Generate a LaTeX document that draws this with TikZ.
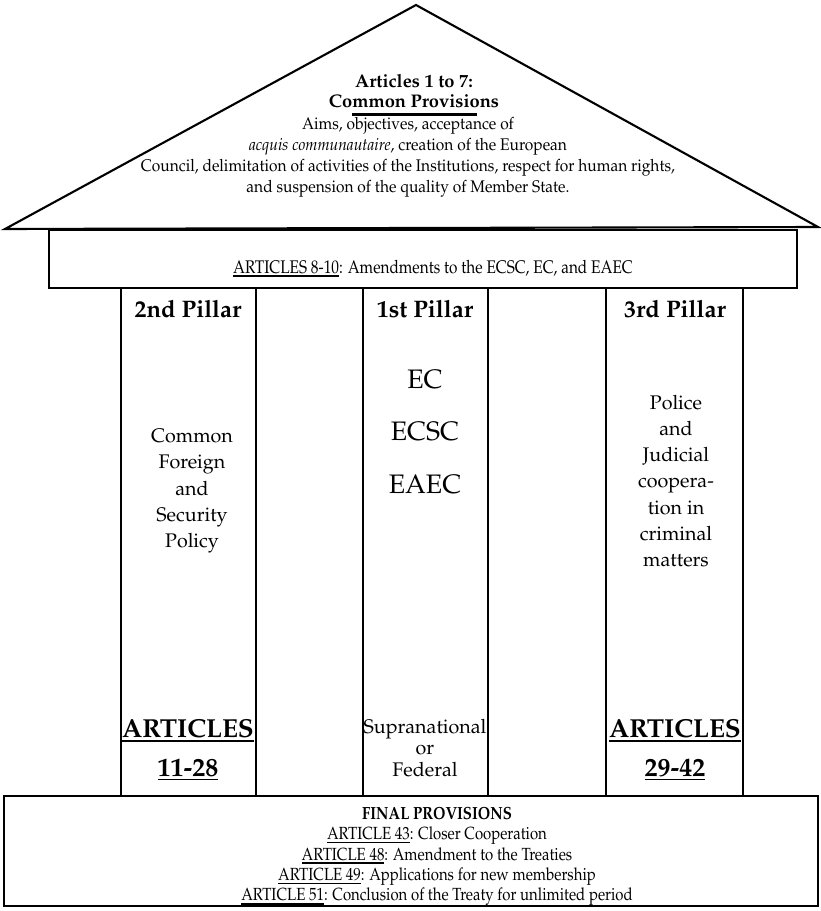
\documentclass[tikz,border=0pt]{standalone}
\usepackage[T1]{fontenc}
\renewcommand{\rmdefault}{ppl}
\usepackage{tikz}
\usetikzlibrary{positioning,calc}

% thick underline for article numbers
\newcommand{\artref}[1]{\vtop{\hbox{#1}\kern1.3pt\hrule height 1.1pt}}
\newcommand{\narrow}[2][0.88]{\scalebox{#1}[1]{\begin{tabular}{@{}c@{}}#2\end{tabular}}}

\begin{document}
\begin{tikzpicture}[x=0.025cm, y=-0.025cm,
    wall/.style={draw, line width=2pt},
    roofline/.style={draw, line width=1.5pt, line join=miter},
    roofbody/.style={font=\fontsize{12}{15}\selectfont, inner sep=0pt},
    rooftitle/.style={font=\fontsize{13}{13.6}\selectfont\bfseries, align=center, inner sep=0pt},
    pillartitle/.style={font=\fontsize{17}{19}\selectfont\bfseries, align=center, inner sep=0pt},
    pillarbody/.style={font=\fontsize{14}{18.7}\selectfont, align=center, inner sep=0pt},
    treaty/.style={font=\fontsize{19}{37.5}\selectfont, align=center, inner sep=0pt},
    articles/.style={font=\fontsize{18.5}{27.5}\selectfont\bfseries, align=center, inner sep=0pt},
    finaltext/.style={font=\fontsize{12.5}{14.5}\selectfont, inner sep=0pt}
]
    \useasboundingbox (0,0) rectangle (820,911);

    % Roof
    \draw[roofline] (5,229) -- (416,5) -- (818,227) -- cycle;
    \node[rooftitle] (roofhead) at (414,91) {Articles 1 to 7:\\Common Provisions};
    \draw[line width=1.6pt] ($(roofhead.south)+(-62,7)$) -- ++(125,0);
    \node[roofbody] (roofbody) at (408,157) {\narrow[0.92]{Aims, objectives, acceptance of\\
        \textit{acquis communautaire}, creation of the European\\
        Council, delimitation of activities of the Institutions, respect for human rights,\\
        and suspension of the quality of Member State.}};

    % Entablature
    \draw[wall] (49,230) rectangle (797,288);
    \node[font=\fontsize{13}{15}\selectfont, inner sep=0pt] (amend) at (433,269)
        {\narrow[0.84]{\artref{ARTICLES 8-10}: Amendments to the ECSC, EC, and EAEC}};

    % Pillars
    \draw[wall] (121,288) rectangle (256,796);
    \draw[wall] (363,288) rectangle (488,796);
    \draw[wall] (606,288) rectangle (743,796);

    % 2nd pillar
    \node[pillartitle] (second) at (188,309) {2nd Pillar};
    \node[pillarbody] (cfsp) at (192,491) {Common\\Foreign\\and\\Security\\Policy};
    \node[articles] (art11) at (188,750) {\artref{ARTICLES}\\\artref{11-28}};

    % 1st pillar
    \node[pillartitle] (first) at (425,309) {1st Pillar};
    \node[treaty] (comm) at (425,432) {EC\\ECSC\\EAEC};
    \node[font=\fontsize{14}{15}\selectfont, align=center, inner sep=0pt] (supra) at (425,748)
        {Supranational\\or\\Federal};

    % 3rd pillar
    \node[pillartitle] (third) at (675,309) {3rd Pillar};
    \node[pillarbody] (pjcc) at (676,481) {Police\\and\\Judicial\\coopera-\\tion in\\criminal\\matters};
    \node[articles] (art29) at (675,750) {\artref{ARTICLES}\\\artref{29-42}};

    % Base
    \draw[wall] (4,796) rectangle (818,906);
    \node[finaltext] (final) at (437,856) {\narrow[0.85]{\textbf{FINAL PROVISIONS}\\
        \artref{ARTICLE 43}: Closer Cooperation\\
        \artref{ARTICLE 48}: Amendment to the Treaties\\
        \artref{ARTICLE 49}: Applications for new membership\\
        \artref{ARTICLE 51}: Conclusion of the Treaty for unlimited period}};
\end{tikzpicture}
\end{document}
